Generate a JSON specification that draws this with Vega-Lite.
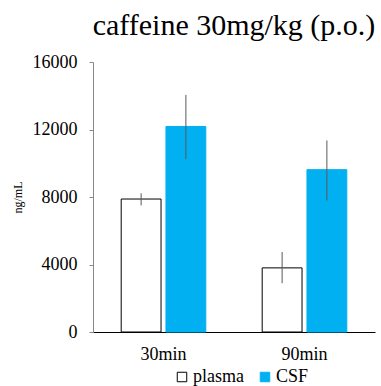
{
  "$schema": "https://vega.github.io/schema/vega-lite/v6.json",
  "autosize": "none",
  "width": 282,
  "height": 270,
  "padding": {"left": 93, "top": 62, "right": 6, "bottom": 54},
  "background": "white",
  "title": {
    "text": "caffeine 30mg/kg (p.o.)",
    "font": "Liberation Serif",
    "fontSize": 30,
    "fontWeight": "normal",
    "color": "black",
    "anchor": "middle",
    "offset": 12
  },
  "config": {
    "view": {"stroke": null},
    "font": "Liberation Serif"
  },
  "data": {
    "values": [
      {"time": "30min", "group": "plasma", "value": 7880, "lo": 7500, "hi": 8220},
      {"time": "30min", "group": "CSF", "value": 12180, "lo": 10250, "hi": 14050},
      {"time": "90min", "group": "plasma", "value": 3800, "lo": 2890, "hi": 4740},
      {"time": "90min", "group": "CSF", "value": 9620, "lo": 7800, "hi": 11350}
    ]
  },
  "encoding": {
    "x": {
      "field": "time",
      "type": "nominal",
      "scale": {"paddingInner": 0.4, "paddingOuter": 0.2},
      "axis": {
        "title": null,
        "labelAngle": 0,
        "labelFont": "Liberation Serif",
        "labelFontSize": 18,
        "labelColor": "black",
        "labelPadding": 13,
        "ticks": false,
        "domainColor": "black",
        "domainWidth": 1
      }
    },
    "xOffset": {
      "field": "group",
      "type": "nominal",
      "sort": ["plasma", "CSF"],
      "scale": {"paddingInner": 0.11, "paddingOuter": 0}
    }
  },
  "layer": [
    {
      "mark": {"type": "bar", "strokeWidth": 1},
      "encoding": {
        "y": {
          "field": "value",
          "type": "quantitative",
          "scale": {"domain": [0, 16000]},
          "axis": {
            "title": "ng/mL",
            "titleFont": "Liberation Serif",
            "titleFontSize": 12,
            "titleFontWeight": "normal",
            "titleColor": "black",
            "titlePadding": 8,
            "values": [0, 4000, 8000, 12000, 16000],
            "format": "d",
            "labelFont": "Liberation Serif",
            "labelFontSize": 18,
            "labelColor": "black",
            "labelPadding": 12,
            "tickSize": 4,
            "tickColor": "#888888",
            "domainColor": "#888888",
            "grid": false
          }
        },
        "fill": {
          "field": "group",
          "type": "nominal",
          "sort": ["plasma", "CSF"],
          "scale": {"domain": ["plasma", "CSF"], "range": ["white", "#00B0F0"]},
          "legend": {
            "title": null,
            "orient": "none",
            "legendX": 80,
            "legendY": 306,
            "direction": "horizontal",
            "symbolType": "square",
            "symbolSize": 90,
            "symbolStrokeWidth": 1,
            "labelFont": "Liberation Serif",
            "labelFontSize": 18,
            "labelColor": "black",
            "columnPadding": 12,
            "labelOffset": 2
          }
        },
        "stroke": {
          "field": "group",
          "type": "nominal",
          "sort": ["plasma", "CSF"],
          "scale": {"domain": ["plasma", "CSF"], "range": ["black", "#00B0F0"]},
          "legend": {
            "title": null,
            "orient": "none",
            "legendX": 80,
            "legendY": 306,
            "direction": "horizontal",
            "symbolType": "square",
            "symbolSize": 90,
            "symbolStrokeWidth": 1,
            "labelFont": "Liberation Serif",
            "labelFontSize": 18,
            "labelColor": "black",
            "columnPadding": 12,
            "labelOffset": 2
          }
        }
      }
    },
    {
      "mark": {"type": "rule", "color": "#595959", "strokeWidth": 1},
      "encoding": {
        "y": {"field": "lo", "type": "quantitative"},
        "y2": {"field": "hi"}
      }
    }
  ]
}
